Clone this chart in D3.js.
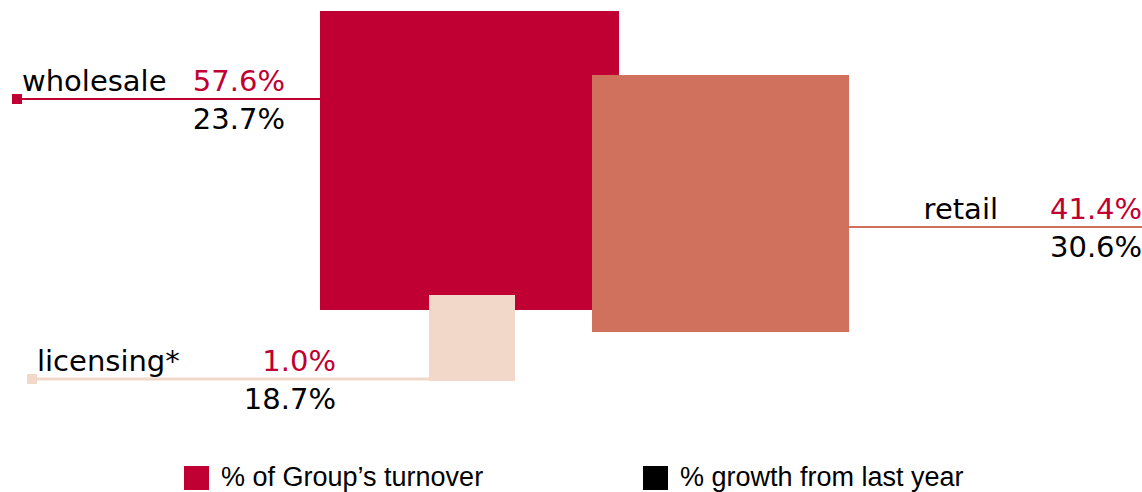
<!DOCTYPE html>
<html lang="en">
  <head>
    <title>Turnover by channel</title>
    <script src="https://d3js.org/d3.v7.min.js"></script>
    <style>
      body {
        margin: 0;
        background: white;
      }
      .label {
        font-family: "DejaVu Sans", sans-serif;
        font-size: 29px;
        fill: black;
      }
      .share {
        fill: #c00032;
      }
      .legend text {
        font-family: "Liberation Sans", Arial, sans-serif;
        font-size: 27px;
        fill: black;
      }
    </style>
  </head>
  <body>
    <div id="chartArea"></div>
    <script>
      let width = 1142;
      let height = 492;

      // Data
      let channels = ["wholesale", "retail", "licensing*"];
      let turnoverShare = [57.6, 41.4, 1.0];
      let growth = [23.7, 30.6, 18.7];
      let legendLabels = ["% of Group\u2019s turnover", "% growth from last year"];

      let colors = d3
        .scaleOrdinal()
        .domain(channels)
        .range(["#c00032", "#d0715e", "#f1d8c9"]);

      // square side from share of turnover
      let side = d3
        .scalePow()
        .exponent(0.6)
        .domain([0, 1, 57.6])
        .range([0, 86, 299]);

      let svg = d3
        .select("#chartArea")
        .append("svg")
        .attr("width", width)
        .attr("height", height);

      // where each square sits, and where its callout goes
      let layout = {
        wholesale: { x: 320, y: 11, lineY: 99, side: "left", markX: 12, textX: 22, valueX: 285 },
        retail: { x: 592, y: 75, lineY: 227, side: "right", textX: 998, valueX: 1050 },
        "licensing*": { x: 429, bottom: 381, lineY: 379, side: "left", markX: 27, textX: 37, valueX: 336 },
      };

      let items = channels.map(function (c, i) {
        let s = side(turnoverShare[i]);
        let l = layout[c];
        let y = l.bottom !== undefined ? l.bottom - s : l.y;
        return { name: c, share: turnoverShare[i], growth: growth[i], s: s, x: l.x, y: y, l: l };
      });

      let fmt = function (v) {
        return v.toFixed(1) + "%";
      };

      // Leader lines
      svg
        .append("g")
        .selectAll("line")
        .data(items)
        .enter()
        .append("line")
        .attr("x1", function (d) {
          return d.l.side === "left" ? d.l.markX : d.x + d.s;
        })
        .attr("x2", function (d) {
          return d.l.side === "left" ? d.x : width + 10;
        })
        .attr("y1", function (d) {
          return d.l.lineY;
        })
        .attr("y2", function (d) {
          return d.l.lineY;
        })
        .attr("stroke", function (d) {
          return colors(d.name);
        })
        .attr("stroke-width", function (d) {
          return d.name === "licensing*" ? 3 : 2;
        });

      // small end markers
      svg
        .append("g")
        .selectAll("rect")
        .data(
          items.filter(function (d) {
            return d.l.side === "left";
          })
        )
        .enter()
        .append("rect")
        .attr("x", function (d) {
          return d.l.markX;
        })
        .attr("y", function (d) {
          return d.l.lineY - 5;
        })
        .attr("width", 10)
        .attr("height", 10)
        .attr("fill", function (d) {
          return colors(d.name);
        });

      // Squares
      svg
        .append("g")
        .selectAll("rect")
        .data(items)
        .enter()
        .append("rect")
        .attr("x", function (d) {
          return d.x;
        })
        .attr("y", function (d) {
          return d.y;
        })
        .attr("width", function (d) {
          return d.s;
        })
        .attr("height", function (d) {
          return d.s;
        })
        .attr("fill", function (d) {
          return colors(d.name);
        });

      // Labels
      let labels = svg.append("g").selectAll("g").data(items).enter().append("g");

      labels
        .append("text")
        .classed("label", true)
        .attr("x", function (d) {
          return d.l.textX;
        })
        .attr("y", function (d) {
          return d.l.lineY - 8;
        })
        .attr("text-anchor", function (d) {
          return d.l.side === "left" ? "start" : "end";
        })
        .text(function (d) {
          return d.name;
        });

      labels
        .append("text")
        .classed("label share", true)
        .attr("x", function (d) {
          return d.l.valueX;
        })
        .attr("y", function (d) {
          return d.l.lineY - 8;
        })
        .attr("text-anchor", function (d) {
          return d.l.side === "left" ? "end" : "start";
        })
        .text(function (d) {
          return fmt(d.share);
        });

      labels
        .append("text")
        .classed("label", true)
        .attr("x", function (d) {
          return d.l.valueX;
        })
        .attr("y", function (d) {
          return d.l.lineY + 30;
        })
        .attr("text-anchor", function (d) {
          return d.l.side === "left" ? "end" : "start";
        })
        .text(function (d) {
          return fmt(d.growth);
        });

      // Legend
      let legend = svg.append("g").classed("legend", true);
      let legendX = d3.scalePoint().domain(legendLabels).range([184, 643]);
      let legendColors = ["#c00032", "#000000"];

      let entries = legend
        .selectAll("g")
        .data(legendLabels)
        .enter()
        .append("g")
        .attr("transform", function (d) {
          return "translate(" + legendX(d) + ",466)";
        });

      entries
        .append("rect")
        .attr("width", 25)
        .attr("height", 24)
        .attr("fill", function (d, i) {
          return legendColors[i];
        });

      entries
        .append("text")
        .attr("x", 37)
        .attr("y", 20)
        .text(function (d) {
          return d;
        });
    </script>
  </body>
</html>
